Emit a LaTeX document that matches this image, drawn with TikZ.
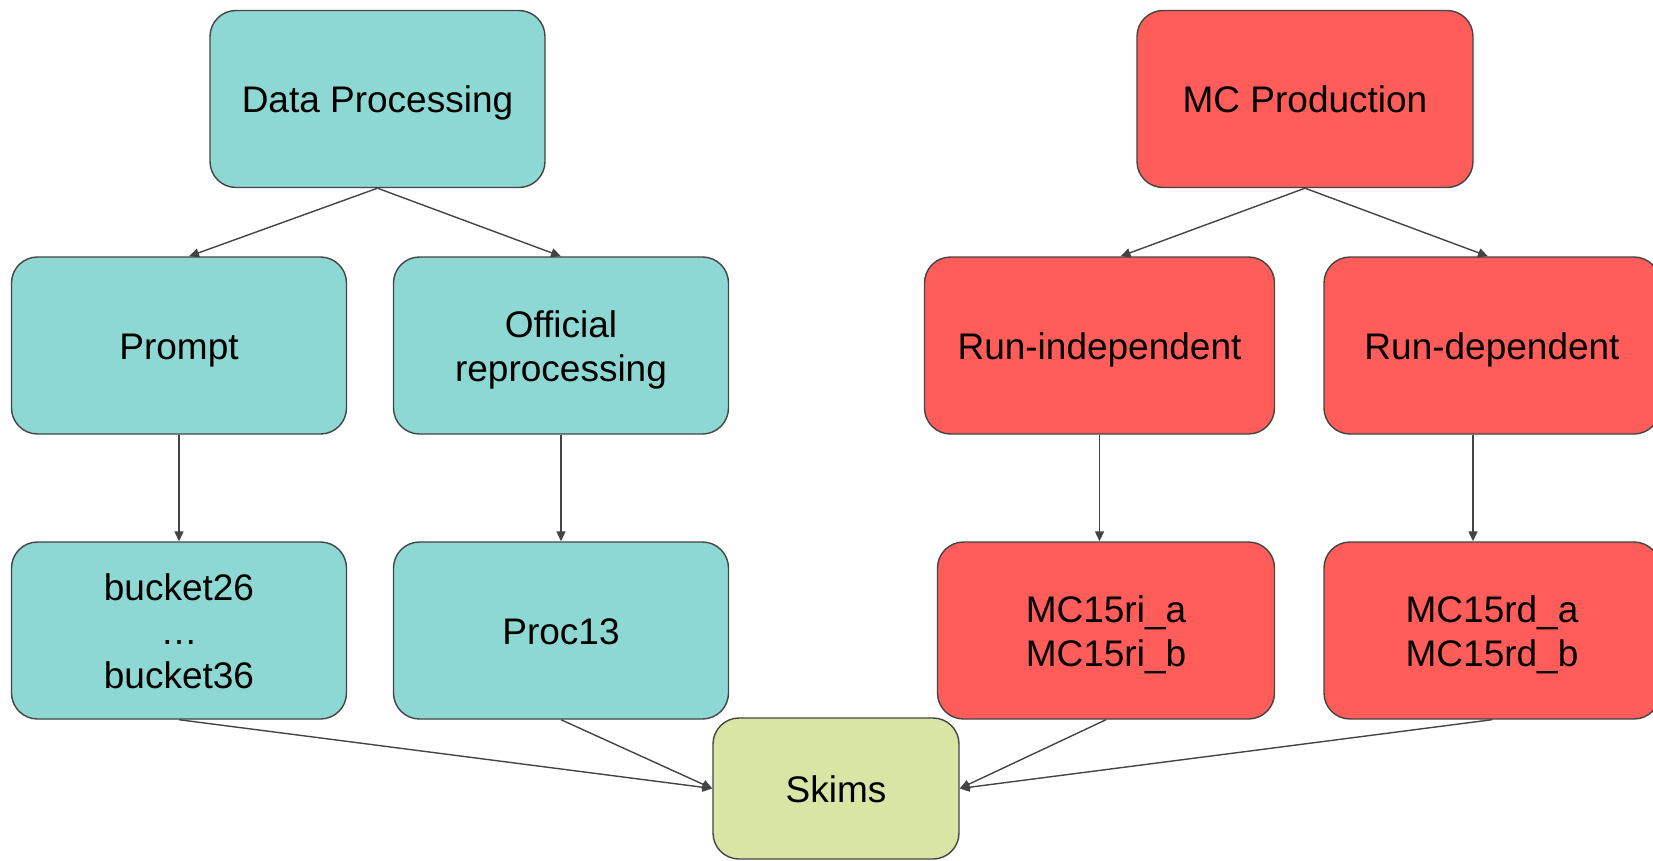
\documentclass[tikz,border=0pt]{standalone}
\usepackage{fontspec}
\setmainfont{Liberation Sans}
\usetikzlibrary{arrows.meta}

\definecolor{datafill}{RGB}{142,216,211}
\definecolor{mcfill}{RGB}{255,92,90}
\definecolor{skimfill}{RGB}{216,229,164}
\definecolor{edgegray}{RGB}{68,68,68}

% ascent/descent strut so every label sits on a full line box
\newcommand\gstrut{\rule[-0.212em]{0pt}{\dimexpr1.117em+1.5pt\relax}}

\tikzset{
  box/.style={draw=edgegray, line width=1.4pt, rounded corners=26pt,
    inner sep=0pt, align=center, font=\fontsize{37}{44}\selectfont},
  databox/.style={box, fill=datafill, minimum width=335pt, minimum height=177pt},
  mcbox/.style={box, fill=mcfill, minimum height=177pt},
  skimbox/.style={box, fill=skimfill, minimum width=246pt, minimum height=141pt},
  flow/.style={draw=edgegray, line width=1.4pt,
    -{Triangle[length=10pt,width=9pt]}}
}

\begin{document}
\begin{tikzpicture}[x=1pt, y=-1pt]
  \useasboundingbox (0,0) rectangle (1653,861);
  \clip (0,0) rectangle (1653,861);

  % data processing chain
  \node[databox] (dp)   at (377.5, 99)   {\gstrut Data Processing\gstrut};
  \node[databox] (pr)   at (179, 345.5)  {\gstrut Prompt\gstrut};
  \node[databox] (off)  at (561, 345.5)  {\gstrut Official\\reprocessing\gstrut};
  \node[databox] (bk)   at (179, 630.5)  {\gstrut bucket26\\…\\bucket36\gstrut};
  \node[databox] (proc) at (561, 630.5)  {\gstrut Proc13\gstrut};

  % Monte Carlo chain
  \node[mcbox, minimum width=336pt] (mc)   at (1305, 99)    {\gstrut MC Production\gstrut};
  \node[mcbox, minimum width=350pt] (ri)   at (1099.5, 345.5) {\gstrut Run-independent\gstrut};
  \node[mcbox, minimum width=336pt] (rd)   at (1492, 345.5) {\gstrut Run-dependent\gstrut};
  \node[mcbox, minimum width=337pt] (mcri) at (1106, 630.5) {\gstrut MC15ri\_a\\MC15ri\_b\gstrut};
  \node[mcbox, minimum width=336pt] (mcrd) at (1492, 630.5) {\gstrut MC15rd\_a\\MC15rd\_b\gstrut};

  % common output
  \node[skimbox] (sk) at (836, 788.5) {\gstrut Skims\gstrut};

  % connectors
  \draw[flow] (dp.south) -- ([xshift=10pt]pr.north);
  \draw[flow] (dp.south) -- (off.north);
  \draw[flow] (pr.south) -- (bk.north);
  \draw[flow] (off.south) -- (proc.north);

  \draw[flow] (mc.south) -- ([xshift=21pt]ri.north);
  \draw[flow] (mc.south) -- ([xshift=-4pt]rd.north);
  \draw[flow] (ri.south) -- (ri.south |- mcri.north);
  \draw[flow] ([xshift=-19pt]rd.south) -- ([xshift=-19pt]mcrd.north);

  \draw[flow] (bk.south) -- (sk.west);
  \draw[flow] (proc.south) -- (sk.west);
  \draw[flow] (mcri.south) -- (sk.east);
  \draw[flow] (mcrd.south) -- (sk.east);
\end{tikzpicture}
\end{document}
